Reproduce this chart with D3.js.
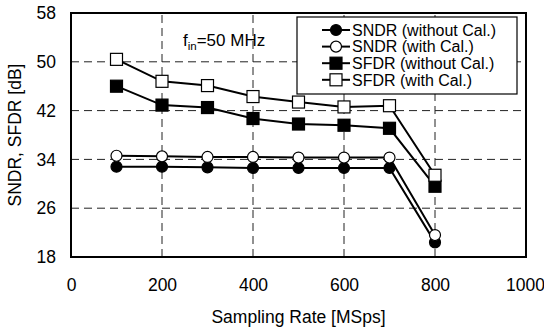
<!DOCTYPE html>
<html>
<head>
<meta charset="utf-8">
<script src="https://cdn.jsdelivr.net/npm/d3@7"></script>
<style>
  body { margin: 0; background: #fff; }
  text { font-family: "Liberation Sans", Arial, sans-serif; fill: #000; }
</style>
</head>
<body>
<script>
const width = 544;
const height = 331;

const rates = [100, 200, 300, 400, 500, 600, 700, 800];
const sndrNoCal = [32.8, 32.8, 32.7, 32.6, 32.6, 32.6, 32.6, 20.4];
const sndrCal = [34.6, 34.5, 34.4, 34.4, 34.3, 34.3, 34.3, 21.6];
const sfdrNoCal = [46.0, 42.9, 42.5, 40.7, 39.8, 39.6, 39.1, 29.6];
const sfdrCal = [50.4, 46.8, 46.1, 44.3, 43.4, 42.6, 42.8, 31.4];

const xTicks = [0, 200, 400, 600, 800, 1000];
const yTicks = [18, 26, 34, 42, 50, 58];

const series = [
  {name: "SNDR (without Cal.)", values: sndrNoCal, shape: "circle", fill: "#000"},
  {name: "SNDR (with Cal.)", values: sndrCal, shape: "circle", fill: "#fff"},
  {name: "SFDR (without Cal.)", values: sfdrNoCal, shape: "square", fill: "#000"},
  {name: "SFDR (with Cal.)", values: sfdrCal, shape: "square", fill: "#fff"}
];

const margin = {top: 13, right: 18, bottom: 74, left: 71};

const x = d3.scaleLinear().domain([0, 1000]).range([margin.left, width - margin.right]);
const y = d3.scaleLinear().domain([18, 58]).range([height - margin.bottom, margin.top]);

const svg = d3.select("body").append("svg")
  .attr("width", width)
  .attr("height", height);

// grid
const grid = svg.append("g")
  .attr("stroke", "#222")
  .attr("stroke-width", 1)
  .attr("stroke-dasharray", "8,5");

grid.selectAll("line.gx")
  .data(xTicks.slice(1, -1))
  .join("line")
  .attr("x1", d => x(d)).attr("x2", d => x(d))
  .attr("y1", y(18)).attr("y2", y(58));

grid.selectAll("line.gy")
  .data(yTicks.slice(1, -1))
  .join("line")
  .attr("y1", d => y(d)).attr("y2", d => y(d))
  .attr("x1", x(0)).attr("x2", x(1000));

// frame
svg.append("rect")
  .attr("x", x(0)).attr("y", y(58))
  .attr("width", x(1000) - x(0))
  .attr("height", y(18) - y(58))
  .attr("fill", "none")
  .attr("stroke", "#000")
  .attr("stroke-width", 2);

// axes (labels only)
const xAxis = svg.append("g")
  .attr("transform", `translate(0,${y(18)})`)
  .call(d3.axisBottom(x).tickValues(xTicks).tickFormat(d3.format("d")).tickSize(0).tickPadding(22));
xAxis.select(".domain").remove();
xAxis.selectAll("text").attr("font-size", 17.5).style("font-family", "Liberation Sans, Arial, sans-serif");
xAxis.selectAll("text").filter(d => d === 1000).attr("dx", -1);

const yAxis = svg.append("g")
  .attr("transform", `translate(${x(0)},0)`)
  .call(d3.axisLeft(y).tickValues(yTicks).tickSize(0).tickPadding(15));
yAxis.select(".domain").remove();
yAxis.selectAll("text").attr("font-size", 17.5).style("font-family", "Liberation Sans, Arial, sans-serif");

svg.append("text")
  .attr("x", (x(0) + x(1000)) / 2)
  .attr("y", 323)
  .attr("text-anchor", "middle")
  .attr("font-size", 17.5)
  .text("Sampling Rate [MSps]");

svg.append("text")
  .attr("transform", `translate(21,${(y(18) + y(58)) / 2}) rotate(-90)`)
  .attr("text-anchor", "middle")
  .attr("font-size", 17.5)
  .text("SNDR, SFDR [dB]");

const ann = svg.append("text")
  .attr("x", 183)
  .attr("y", 46)
  .attr("font-size", 17);
ann.append("tspan").text("f");
ann.append("tspan").attr("font-size", 11.5).attr("dy", 4).text("in");
ann.append("tspan").attr("dy", -4).text("=50 MHz");

// lines
const line = d3.line()
  .x((d, i) => x(rates[i]))
  .y(d => y(d));

svg.append("g")
  .selectAll("path")
  .data(series)
  .join("path")
  .attr("d", d => line(d.values))
  .attr("fill", "none")
  .attr("stroke", "#000")
  .attr("stroke-width", 2);

function drawMarker(g, s, cx, cy) {
  if (s.shape === "circle") {
    g.append("circle")
      .attr("cx", cx).attr("cy", cy).attr("r", 5.5)
      .attr("fill", s.fill).attr("stroke", "#000").attr("stroke-width", 1.2);
  } else {
    g.append("rect")
      .attr("x", cx - 6).attr("y", cy - 6).attr("width", 12).attr("height", 12)
      .attr("fill", s.fill).attr("stroke", "#000").attr("stroke-width", 1.2);
  }
}

const markers = svg.append("g");
series.forEach(s => {
  s.values.forEach((v, i) => drawMarker(markers, s, x(rates[i]), y(v)));
});

// legend
const legend = svg.append("g");
legend.append("rect")
  .attr("x", 297).attr("y", 17)
  .attr("width", 220).attr("height", 77)
  .attr("fill", "#fff")
  .attr("stroke", "#000")
  .attr("stroke-width", 1.2);

series.forEach((s, i) => {
  const ly = 30 + i * 16.6;
  legend.append("line")
    .attr("x1", 322).attr("x2", 350)
    .attr("y1", ly).attr("y2", ly)
    .attr("stroke", "#000").attr("stroke-width", 2);
  drawMarker(legend, s, 336, ly);
  legend.append("text")
    .attr("x", 352).attr("y", ly + 5.8)
    .attr("font-size", 16)
    .text(s.name);
});
</script>
</body>
</html>
